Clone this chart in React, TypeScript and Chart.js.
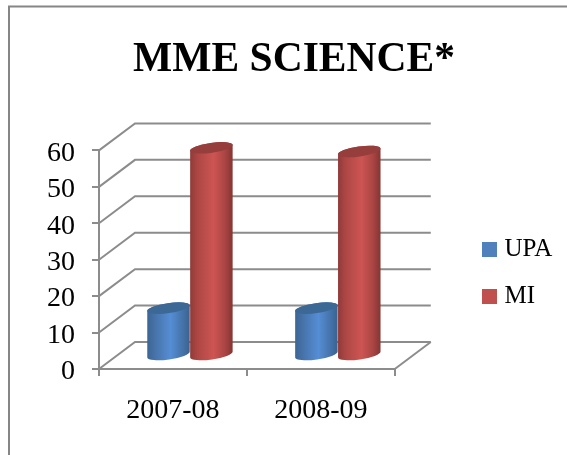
import React, { useEffect, useRef } from "react";
import { Chart, registerables } from "chart.js";

Chart.register(...registerables);

const categories = ["2007-08", "2008-09"];
const upaValues = [13, 13];
const miValues = [57, 56];
const chartTitle = "MME SCIENCE*";
const FONT = "'Liberation Serif', serif";
const GRID = "#8c8c8c";
const DEPTH_X = 36;
const DEPTH_Y = 27;

const shades: Record<number, { stops: [number, string][]; cap: string }> = {
  0: {
    stops: [[0, "#3a6595"], [0.18, "#4672a8"], [0.55, "#558ed5"], [0.82, "#4673aa"], [1, "#386290"]],
    cap: "#3c6896",
  },
  1: {
    stops: [[0, "#8e3a38"], [0.18, "#ad4744"], [0.55, "#cd5552"], [0.82, "#a94543"], [1, "#843432"]],
    cap: "#953e3c",
  },
};

const scene = {
  id: "scene",
  beforeDraw(chart: any) {
    const { ctx } = chart;
    ctx.save();
    ctx.strokeStyle = "#868686";
    ctx.lineWidth = 2;
    ctx.beginPath();
    ctx.moveTo(567, 6.5);
    ctx.lineTo(9, 6.5);
    ctx.lineTo(9, 455);
    ctx.stroke();
    ctx.restore();
  },
  afterLayout(chart: any) {
    chart.legend.left = 465;
    chart.legend.right = 567;
    chart.legend.top = 215;
    chart.legend.options.labels.textAlign = "left";
    chart.titleBlock.left = 133;
    chart.titleBlock.right = 455;
    chart.scales.y.getLabelItems().forEach((item: any) => {
      item.textOffset += 3;
    });
  },
  beforeDatasetsDraw(chart: any) {
    const { ctx, scales } = chart;
    const xa = scales.x;
    const ya = scales.y;
    ctx.save();
    ctx.strokeStyle = GRID;
    ctx.lineWidth = 2;
    const l = xa.left;
    const r = xa.right;
    ya.ticks.forEach((t: any) => {
      const y = ya.getPixelForValue(t.value);
      ctx.beginPath();
      ctx.moveTo(l, y);
      ctx.lineTo(l + DEPTH_X, y - DEPTH_Y);
      ctx.lineTo(r + DEPTH_X, y - DEPTH_Y);
      ctx.stroke();
    });
    const y0 = ya.getPixelForValue(0);
    ctx.beginPath();
    ctx.moveTo(r, y0);
    ctx.lineTo(r + DEPTH_X, y0 - DEPTH_Y);
    ctx.stroke();
    ctx.restore();

    const rot = (-8 * Math.PI) / 180;
    chart.data.datasets.forEach((_: any, di: number) => {
      const meta = chart.getDatasetMeta(di);
      const shade = shades[di];
      meta.data.forEach((bar: any) => {
        const rx = bar.width / 2;
        const ry = 5;
        const cx = bar.x + 17;
        const top = bar.y - 13.5;
        const base = bar.base - 13.5;
        const g = ctx.createLinearGradient(cx - rx, 0, cx + rx, 0);
        shade.stops.forEach(([p, c]) => g.addColorStop(p, c));
        ctx.save();
        ctx.fillStyle = g;
        ctx.beginPath();
        ctx.ellipse(cx, base, rx, ry, rot, Math.PI, 0, true);
        ctx.ellipse(cx, top, rx, ry, rot, 0, Math.PI, true);
        ctx.closePath();
        ctx.fill();
        ctx.fillStyle = shade.cap;
        ctx.beginPath();
        ctx.ellipse(cx, top, rx, ry, rot, 0, Math.PI * 2);
        ctx.fill();
        ctx.restore();
      });
    });
    return false;
  },
};

export default function App() {
  const ref = useRef<HTMLCanvasElement>(null);
  useEffect(() => {
    const chart = new Chart(ref.current as HTMLCanvasElement, {
      type: "bar",
      data: {
        labels: categories,
        datasets: [
          { label: "UPA", data: upaValues, backgroundColor: "#4f81bd", borderColor: "#4f81bd", borderWidth: 10 },
          { label: "MI", data: miValues, backgroundColor: "#c0504d", borderColor: "#c0504d", borderWidth: 10 },
        ],
      },
      options: {
        responsive: false,
        animation: false,
        layout: { padding: { left: 21, right: 75, top: 0, bottom: 0 } },
        datasets: { bar: { categoryPercentage: 0.58, barPercentage: 1 } },
        scales: {
          x: {
            grid: { drawOnChartArea: false, drawTicks: true, tickLength: 7, color: GRID, lineWidth: 2 },
            border: { color: GRID, width: 2 },
            ticks: { color: "#000", font: { family: FONT, size: 28 }, padding: 18, maxRotation: 0 },
            afterFit: (s: any) => {
              s.height = 86;
            },
          },
          y: {
            min: 0,
            max: 60,
            grid: { drawOnChartArea: false, drawTicks: true, tickLength: 7, color: GRID, lineWidth: 2 },
            border: { color: GRID, width: 2 },
            ticks: { stepSize: 10, autoSkip: false, color: "#000", font: { family: FONT, size: 28 }, padding: 17 },
            afterFit: (s: any) => {
              s.width = 78;
            },
          },
        },
        plugins: {
          title: {
            display: true,
            text: chartTitle,
            color: "#000",
            font: { family: FONT, size: 42, weight: "bold" },
            padding: { top: 35, bottom: 65 },
          },
          legend: {
            position: "right",
            align: "start",
            labels: { boxWidth: 5, boxHeight: 5, padding: 22, color: "#000", font: { family: FONT, size: 25 } },
          },
          tooltip: { enabled: false },
        },
      } as any,
      plugins: [scene],
    });
    return () => chart.destroy();
  }, []);
  return (
    <canvas
      ref={ref}
      width={567}
      height={455}
      style={{ position: "fixed", left: 0, top: 0, width: 567, height: 455, display: "block" }}
    />
  );
}
